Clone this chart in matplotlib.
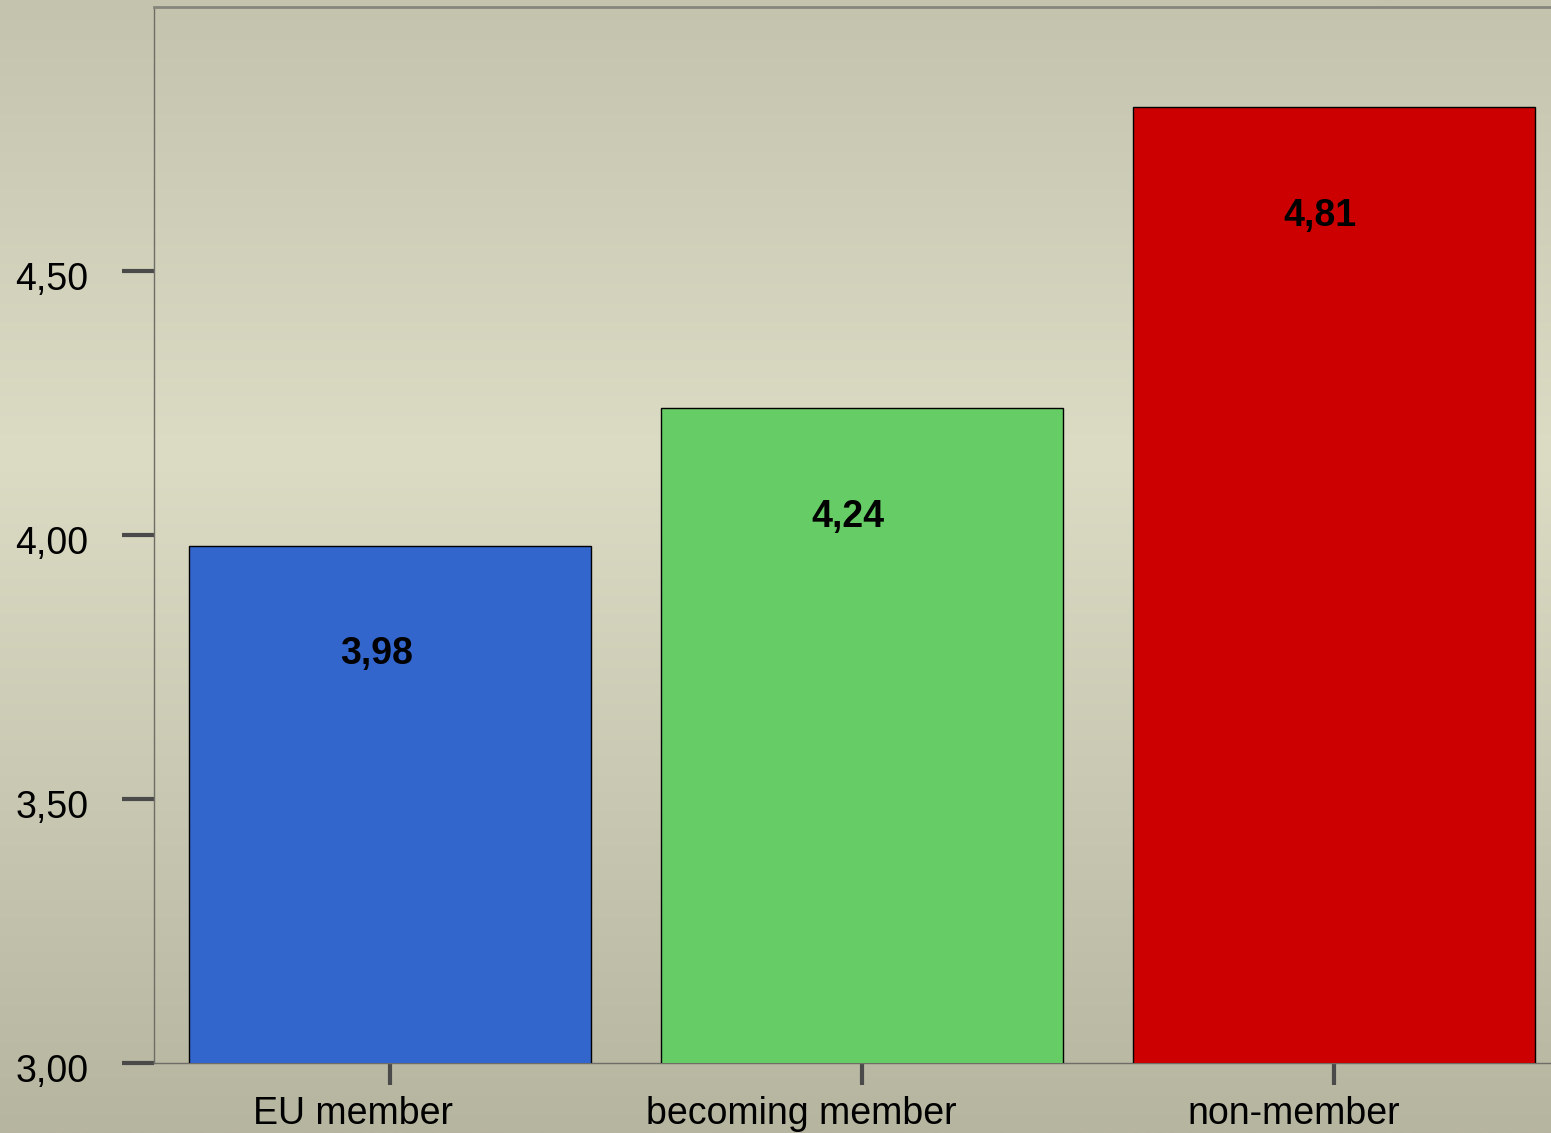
import numpy as np
import matplotlib.pyplot as plt
from matplotlib.transforms import ScaledTranslation

categories = ["EU member", "becoming member", "non-member"]
values = [3.98, 4.24, 4.81]
value_labels = ["3,98", "4,24", "4,81"]
bar_colors = ["#3366cc", "#66cc66", "#cc0000"]
yticks = [3.0, 3.5, 4.0, 4.5]
ytick_labels = ["3,00", "3,50", "4,00", "4,50"]

plt.rcParams['font.family'] = ['Liberation Sans', 'DejaVu Sans']

fig = plt.figure(figsize=(15.51, 11.33), dpi=100)

# background gradient over the whole figure (dark top/bottom, light middle)
bg = fig.add_axes([0, 0, 1, 1], zorder=-10)
stops_y = np.array([0.0, 0.40, 1.0])
top = np.array([196, 195, 174]) / 255
mid = np.array([220, 219, 196]) / 255
bot = np.array([182, 181, 160]) / 255
yy = np.linspace(0, 1, 400)
grad = np.zeros((400, 1, 3))
for c in range(3):
    grad[:, 0, c] = np.interp(yy, stops_y, [top[c], mid[c], bot[c]])
bg.imshow(grad, aspect='auto', extent=[0, 1, 0, 1], origin='upper')
bg.set_axis_off()

ax = fig.add_axes([0.0993, 0.0618, 0.913, 0.932])
ax.set_facecolor('none')

x = np.arange(len(categories))
ax.bar(x, values, width=0.852, bottom=0, color=bar_colors,
       edgecolor='black', linewidth=1.0, zorder=3)
ax.set_xlim(-0.5, 2.5)
ax.set_ylim(3.0, 5.0)

for i, v in enumerate(values):
    ax.annotate(value_labels[i], xy=(i, v), xytext=(-10, -78),
                textcoords='offset points', ha='center', va='center',
                fontsize=27, fontweight='bold', zorder=4)

ax.set_yticks(yticks)
ax.set_yticklabels(ytick_labels)
ax.set_xticks(x)
ax.set_xticklabels(categories)
ax.tick_params(axis='y', length=23, width=3, color='#4a4a4a', pad=24,
               labelsize=27)
ax.tick_params(axis='x', length=16, width=3, color='#4a4a4a', pad=8,
               labelsize=27)

# labels sit a bit left of their ticks
shifts = [-37, -61, -40]
for lab, s in zip(ax.get_xticklabels(), shifts):
    lab.set_transform(lab.get_transform() + ScaledTranslation(s / 100, 0, fig.dpi_scale_trans))
for lab in ax.get_yticklabels():
    lab.set_transform(lab.get_transform() + ScaledTranslation(0, -5 / 100, fig.dpi_scale_trans))

for side in ['left', 'bottom']:
    ax.spines[side].set_color('#6e6e66')
    ax.spines[side].set_linewidth(1.0)
ax.spines['top'].set_color('#86867c')
ax.spines['top'].set_linewidth(2.0)
ax.spines['right'].set_visible(False)

fig.savefig('out.png', dpi=100)
